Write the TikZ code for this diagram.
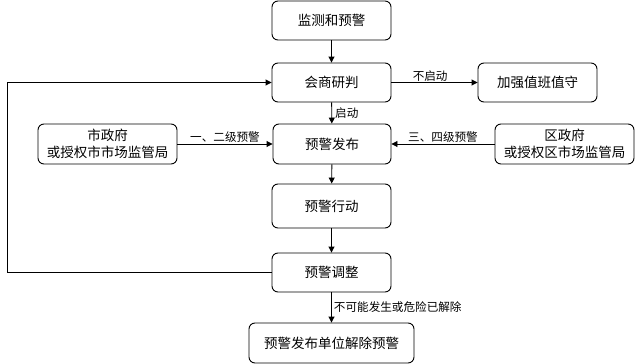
\documentclass[tikz,border=0pt]{standalone}
\usepackage{fontspec}
\setmainfont{Noto Sans CJK SC}
\usetikzlibrary{arrows.meta}
\begin{document}
\begin{tikzpicture}[x=1pt,y=-1pt,
  box/.style={draw,rounded corners=6pt,line width=0.9pt,align=center,font=\fontsize{13.5}{16.5}\selectfont,inner sep=0pt},
  conn/.style={line width=0.9pt,-{Triangle[length=6pt,width=6pt]}},
  lbl/.style={font=\fontsize{11.6}{13}\selectfont,inner sep=1pt}]
\useasboundingbox (0,0) rectangle (635,364);
\node[box,minimum width=119pt,minimum height=39pt] (jc) at (331.5,20.5) {监测和预警};
\node[box,minimum width=119pt,minimum height=39pt] (hs) at (331.5,82.5) {会商研判};
\node[box,minimum width=119pt,minimum height=39pt] (jq) at (537.5,82.5) {加强值班值守};
\node[box,minimum width=118pt,minimum height=40pt] (fb) at (332,144) {预警发布};
\node[box,minimum width=139pt,minimum height=40pt] (sz) at (107.5,144) {市政府\\或授权市市场监管局};
\node[box,minimum width=139pt,minimum height=40pt] (qz) at (564.5,144) {区政府\\或授权区市场监管局};
\node[box,minimum width=119pt,minimum height=44pt] (xd) at (331.5,206) {预警行动};
\node[box,minimum width=119pt,minimum height=39pt] (tz) at (331.5,272.5) {预警调整};
\node[box,minimum width=165pt,minimum height=40pt] (jc2) at (331.5,343) {预警发布单位解除预警};
\coordinate (lb) at (7,272.5);
\coordinate (lt) at (7,82.5);
\draw[conn] (jc) -- (hs);
\draw[conn] (hs) -- node[lbl,above,pos=0.45] {不启动} (jq);
\draw[conn] (hs) -- node[lbl,right,xshift=2pt] {启动} (fb);
\draw[conn] (sz) -- node[lbl,above] {一、二级预警} (fb);
\draw[conn] (qz) -- node[lbl,above] {三、四级预警} (fb);
\draw[conn] (fb) -- (xd);
\draw[conn] (xd) -- (tz);
\draw[conn] (tz) -- node[lbl,right,xshift=1pt] {不可能发生或危险已解除} (jc2);
\draw[conn] (tz.west) -- (lb) -- (lt) -- (hs.west);
\end{tikzpicture}
\end{document}
